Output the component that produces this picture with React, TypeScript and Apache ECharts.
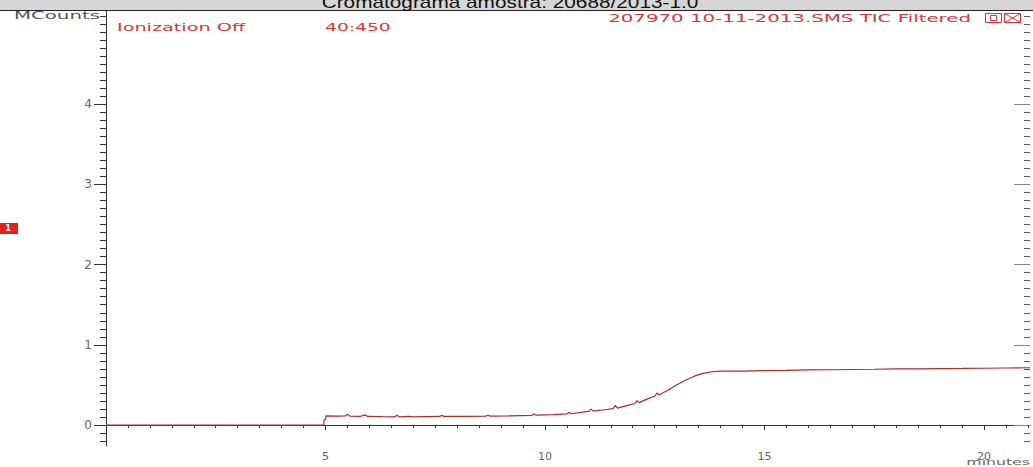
import React, { useEffect, useRef } from "react";
import * as echarts from "echarts";

const retentionTimeMin = [0, 4.96, 4.97, 5.0, 5.01, 5.3, 5.45, 5.5, 5.56, 5.8, 5.9, 5.96, 6.3, 6.58, 6.63, 6.68, 6.9, 7.0, 7.3, 7.6, 7.65, 7.7, 8.2, 8.65, 8.7, 8.75, 9.2, 9.7, 9.75, 9.8, 10.2, 10.5, 10.55, 10.6, 10.9, 11.0, 11.05, 11.1, 11.4, 11.55, 11.6, 11.65, 11.9, 12.05, 12.1, 12.15, 12.35, 12.5, 12.55, 12.6, 12.85, 13.0, 13.2, 13.4, 13.6, 13.8, 14.0, 14.5, 15.0, 15.5, 16.0, 16.5, 17.0, 17.5, 18.0, 18.5, 19.0, 19.5, 20.0, 20.5, 21.05];
const totalIonMCounts = [0, 0, 0.07, 0.07, 0.115, 0.112, 0.115, 0.135, 0.112, 0.11, 0.128, 0.108, 0.105, 0.104, 0.122, 0.104, 0.108, 0.104, 0.106, 0.108, 0.122, 0.108, 0.11, 0.112, 0.124, 0.112, 0.116, 0.122, 0.138, 0.124, 0.13, 0.14, 0.16, 0.142, 0.165, 0.172, 0.2, 0.175, 0.195, 0.205, 0.245, 0.212, 0.25, 0.27, 0.305, 0.28, 0.33, 0.36, 0.4, 0.375, 0.45, 0.5, 0.56, 0.61, 0.645, 0.665, 0.672, 0.674, 0.68, 0.683, 0.688, 0.69, 0.693, 0.696, 0.7, 0.702, 0.704, 0.706, 0.709, 0.712, 0.715];

const xMajorTicks = [5, 10, 15, 20];
const yMajorTicks = [0, 1, 2, 3, 4];

const titleText = "Cromatograma amostra: 20688/2013-1.0";
const yUnitText = "MCounts";
const xUnitText = "minutes";
const ionizationText = "Ionization Off";
const massRangeText = "40:450";
const fileText = "207970 10-11-2013.SMS TIC Filtered";
const badgeText = "1";

const X_MIN = 0;
const X_MAX = 21.05;
const Y_MIN = -0.26;
const Y_MAX = 5.16;

function steps(from: number, to: number, step: number, exclude: number[]) {
  const out: number[] = [];
  const n = Math.round((to - from) / step);
  for (let i = 0; i <= n; i++) {
    const v = Math.round((from + i * step) * 100) / 100;
    if (!exclude.includes(v)) out.push(v);
  }
  return out;
}

const xMinorTicks = steps(0.5, 21, 0.5, xMajorTicks);
const yMinorTicks = steps(-0.2, 5.1, 0.1, yMajorTicks);

const RED = "#d03a3a";
const LABEL = "#666";
const AXIS = "#333";
const FONT = '"DejaVu Sans", sans-serif';

export default function App() {
  const ref = useRef<HTMLDivElement>(null);
  useEffect(() => {
    if (!ref.current) return;
    const chart = echarts.init(ref.current, undefined, { renderer: "svg" });
    const baseX = {
      type: "value",
      min: X_MIN,
      max: X_MAX,
      position: "bottom",
      splitLine: { show: false },
    };
    const baseY = {
      type: "value",
      min: Y_MIN,
      max: Y_MAX,
      splitLine: { show: false },
    };
    chart.setOption({
      animation: false,
      backgroundColor: "#fff",
      grid: { left: 106, right: 3, top: 11, bottom: 21, containLabel: false },
      xAxis: [
        {
          ...baseX,
          axisLine: { show: true, lineStyle: { color: AXIS, width: 1 } },
          axisTick: { show: true, customValues: xMinorTicks, length: 3, lineStyle: { color: AXIS } },
          axisLabel: { show: false },
        },
        {
          ...baseX,
          axisLine: { show: false },
          axisTick: { show: true, customValues: xMajorTicks, length: 5, lineStyle: { color: AXIS } },
          axisLabel: { show: true, customValues: xMajorTicks, color: LABEL, fontSize: 11, fontFamily: FONT, margin: 5 },
        },
      ],
      yAxis: [
        {
          ...baseY,
          position: "left",
          axisLine: { show: true, lineStyle: { color: AXIS, width: 1 } },
          axisTick: { show: true, customValues: yMinorTicks, length: 6, lineStyle: { color: AXIS } },
          axisLabel: { show: false },
        },
        {
          ...baseY,
          position: "left",
          axisLine: { show: false },
          axisTick: { show: true, customValues: yMajorTicks, length: 12, lineStyle: { color: AXIS } },
          axisLabel: { show: true, customValues: yMajorTicks, color: LABEL, fontSize: 12, fontFamily: FONT, margin: 14 },
        },
        {
          ...baseY,
          position: "right",
          axisLine: { show: false },
          axisTick: { show: true, inside: true, customValues: yMinorTicks, length: 6, lineStyle: { color: "#555" } },
          axisLabel: { show: false },
        },
        {
          ...baseY,
          position: "right",
          axisLine: { show: false },
          axisTick: { show: true, inside: true, customValues: yMajorTicks, length: 16, lineStyle: { color: "#888" } },
          axisLabel: { show: false },
        },
      ],
      series: [
        {
          type: "line",
          xAxisIndex: 0,
          yAxisIndex: 0,
          data: retentionTimeMin.map((t, i) => [t, totalIonMCounts[i]]),
          showSymbol: false,
          symbol: "none",
          lineStyle: { color: "#b02a2a", width: 1.2 },
          silent: true,
        },
      ],
      graphic: [
        { type: "rect", shape: { x: 0, y: 0, width: 1033, height: 10 }, style: { fill: "#d6d6d6" }, silent: true },
        { type: "line", shape: { x1: 0, y1: 10.5, x2: 1033, y2: 10.5 }, style: { stroke: "#222", lineWidth: 1 }, silent: true },
        {
          type: "text", x: 510, y: 10, scaleX: 1.3,
          style: { text: titleText, x: 0, y: 0, fill: "#111", font: '16px "Liberation Sans", Arial, sans-serif', textAlign: "center", textVerticalAlign: "bottom" },
        },
        {
          type: "text", x: 100, y: 15.5, scaleX: 1.8,
          style: { text: yUnitText, x: 0, y: 0, fill: "#555", font: "11px " + FONT, textAlign: "right", textVerticalAlign: "middle" },
        },
        {
          type: "text", x: 1030, y: 462, scaleX: 1.75,
          style: { text: xUnitText, x: 0, y: 0, fill: LABEL, font: "9px " + FONT, textAlign: "right", textVerticalAlign: "middle" },
        },
        {
          type: "text", x: 117, y: 27, scaleX: 1.75,
          style: { text: ionizationText, x: 0, y: 0, fill: RED, font: "11px " + FONT, textAlign: "left", textVerticalAlign: "middle" },
        },
        {
          type: "text", x: 325, y: 27, scaleX: 1.7,
          style: { text: massRangeText, x: 0, y: 0, fill: RED, font: "11px " + FONT, textAlign: "left", textVerticalAlign: "middle" },
        },
        {
          type: "text", x: 971, y: 18, scaleX: 1.8,
          style: { text: fileText, x: 0, y: 0, fill: RED, font: "11px " + FONT, textAlign: "right", textVerticalAlign: "middle" },
        },
        { type: "rect", shape: { x: 985.5, y: 13.5, width: 16, height: 9 }, style: { fill: "none", stroke: RED, lineWidth: 1 }, silent: true },
        { type: "rect", shape: { x: 990.5, y: 15.5, width: 6, height: 5 }, style: { fill: "none", stroke: RED, lineWidth: 1 }, silent: true },
        { type: "rect", shape: { x: 1004.5, y: 13.5, width: 16, height: 9 }, style: { fill: "none", stroke: RED, lineWidth: 1 }, silent: true },
        { type: "line", shape: { x1: 1004.5, y1: 13.5, x2: 1020.5, y2: 22.5 }, style: { stroke: RED, lineWidth: 1 }, silent: true },
        { type: "line", shape: { x1: 1020.5, y1: 13.5, x2: 1004.5, y2: 22.5 }, style: { stroke: RED, lineWidth: 1 }, silent: true },
        { type: "rect", shape: { x: 0, y: 223, width: 18, height: 11 }, style: { fill: "#e8201b" }, silent: true },
        {
          type: "text", x: 8, y: 228.5,
          style: { text: badgeText, x: 0, y: 0, fill: "#fff", font: "bold 8px " + FONT, textAlign: "center", textVerticalAlign: "middle" },
        },
      ],
    });
    return () => chart.dispose();
  }, []);
  return <div ref={ref} style={{ position: "fixed", left: 0, top: 0, width: 1033, height: 467 }} />;
}
